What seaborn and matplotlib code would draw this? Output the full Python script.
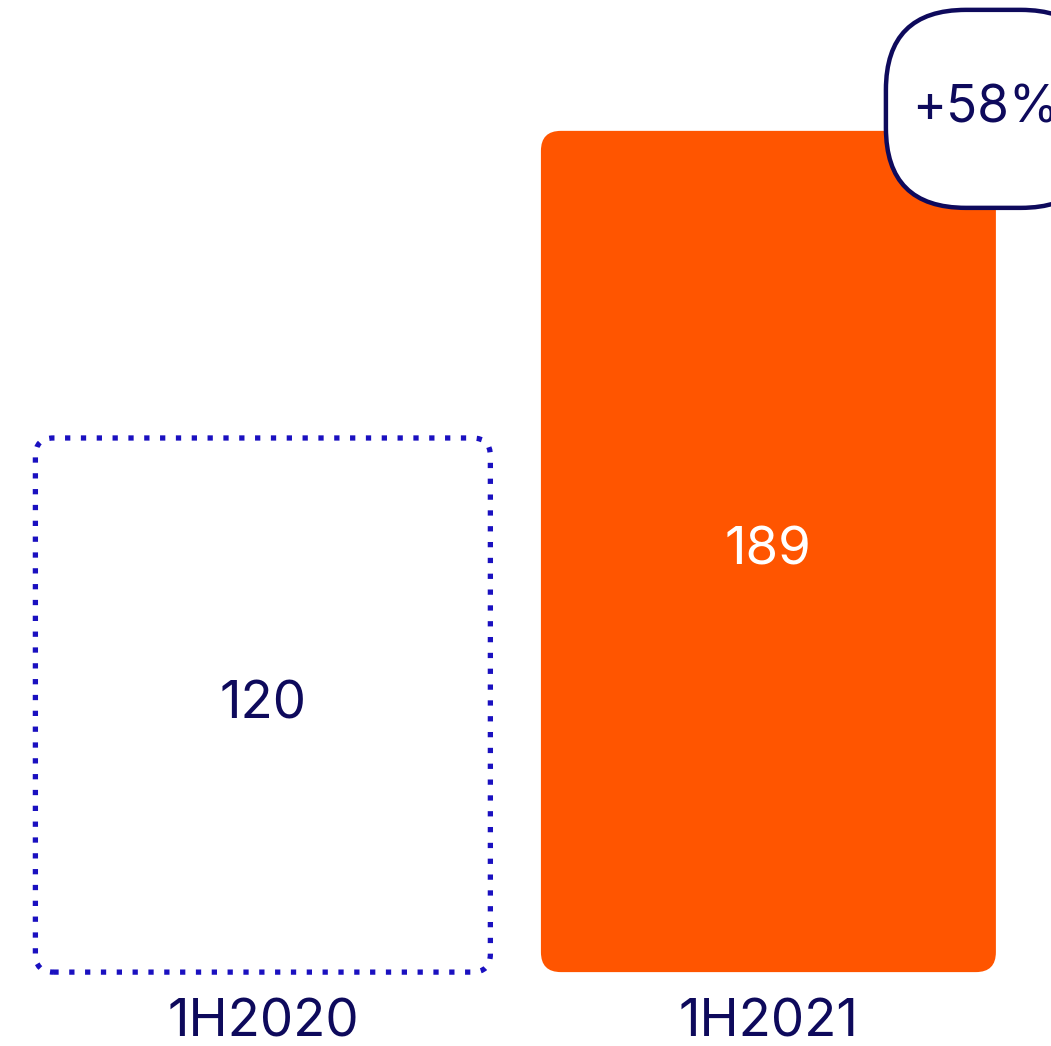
import matplotlib
matplotlib.use("Agg")
import matplotlib.pyplot as plt
import seaborn as sns
import pandas as pd
from matplotlib.patches import FancyBboxPatch

# Данные
periods = ["1H2020", "1H2021"]
values = [120, 189]
growth_label = "+58%"

navy = "#0e0a5c"
blue = "#1a10c0"
orange = "#ff5500"

sns.set_theme(style="white")
plt.rcParams["font.family"] = ["Inter", "DejaVu Sans"]

df = pd.DataFrame({"period": periods, "value": values})

fig = plt.figure(figsize=(10.51, 10.46), dpi=100)
ax = fig.add_axes([0, 0, 1, 1])
sns.barplot(data=df, x="period", y="value", width=0.9, ax=ax, color=orange)
ax.set_xlim(-0.52, 1.559)
ax.set_ylim(-16.6, 218.4)
ax.axis("off")

# пересчёт пикселей в единицы данных
fig.canvas.draw()
(x0, y0), (x1, y1) = ax.transData.transform([(0, 0), (1, 1)])
px_x = 1.0 / (x1 - x0)
px_y = 1.0 / (y1 - y0)
aspect = px_y / px_x

# заменяем прямоугольники на скруглённые
bars = list(ax.patches)
for i, bar in enumerate(bars):
    bx, by, bw, bh = bar.get_x(), bar.get_y(), bar.get_width(), bar.get_height()
    bar.set_visible(False)
    if i == 0:
        patch = FancyBboxPatch((bx, by), bw, bh,
                               boxstyle=f"round,pad=0,rounding_size={18 * px_x}",
                               mutation_aspect=aspect, facecolor="none",
                               edgecolor=blue, linewidth=3.8,
                               linestyle=(0, (1, 2.0)), capstyle="butt")
        txt_color = navy
    else:
        patch = FancyBboxPatch((bx, by), bw, bh,
                               boxstyle=f"round,pad=0,rounding_size={20 * px_x}",
                               mutation_aspect=aspect, facecolor=orange,
                               edgecolor="none")
        txt_color = "white"
    ax.add_patch(patch)
    ax.text(bx + bw / 2, bh / 2, str(values[i]), ha="center", va="center",
            fontsize=38, color=txt_color)
    ax.text(bx + bw / 2, -11.5, periods[i], ha="center", va="center",
            fontsize=38, color=navy)

# бейдж с ростом
bx0 = 1 + (886 - 768.5) * px_x
bw = 215 * px_x
bh = 198 * px_y
badge = FancyBboxPatch((bx0, 171.7), bw, bh,
                       boxstyle=f"round,pad=0,rounding_size={80 * px_x}",
                       mutation_aspect=aspect, facecolor="white",
                       edgecolor=navy, linewidth=3.2, clip_on=False)
ax.add_patch(badge)
ax.text(bx0 + 100 * px_x, 171.7 + bh / 2, growth_label, ha="center", va="center",
        fontsize=37, color=navy)

fig.savefig("out.png", dpi=100)
